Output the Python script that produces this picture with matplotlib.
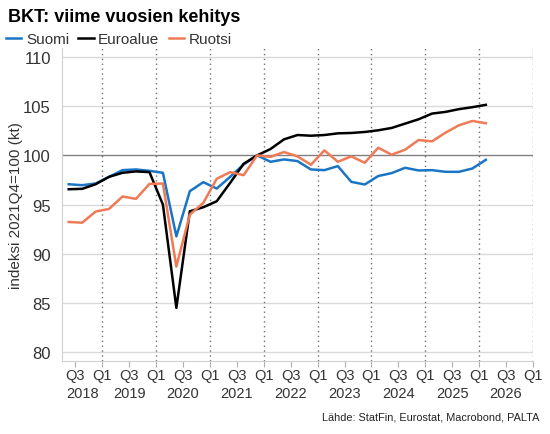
import matplotlib
matplotlib.use("Agg")
import matplotlib.pyplot as plt
import matplotlib.transforms as mtransforms
import numpy as np

plt.rcParams['font.family'] = ['Liberation Sans', 'DejaVu Sans']

# quarterly data, 2018Q2 .. 2026Q1, index 2021Q4 = 100
first_q = (2018, 2)
suomi = [97.07, 96.97, 97.14, 97.82, 98.5, 98.57, 98.43, 98.23, 91.77, 96.36,
         97.28, 96.63, 97.82, 99.08, 100.0, 99.35, 99.59, 99.42, 98.57, 98.5,
         98.91, 97.31, 97.04, 97.9, 98.2, 98.74, 98.47, 98.5, 98.33, 98.33,
         98.67, 99.55]
euroalue = [96.56, 96.6, 97.07, 97.82, 98.23, 98.37, 98.3, 95.0, 84.5, 94.32,
            94.73, 95.34, 97.21, 99.15, 100.0, 100.65, 101.63, 102.07, 102.0, 102.07,
            102.24, 102.28, 102.38, 102.55, 102.79, 103.23, 103.67, 104.25, 104.42, 104.7,
            104.9, 105.14]
ruotsi = [93.23, 93.16, 94.29, 94.56, 95.82, 95.58, 97.1, 97.14, 88.7, 93.98,
          95.17, 97.62, 98.3, 97.99, 100.0, 99.85, 100.34, 99.9, 99.05, 100.51,
          99.35, 99.9, 99.25, 100.78, 100.07, 100.58, 101.56, 101.43, 102.31, 103.06,
          103.5, 103.27]
years = [2018, 2019, 2020, 2021, 2022, 2023, 2024, 2025, 2026]
series_names = ['Suomi', 'Euroalue', 'Ruotsi']
colors = ['#1a75c4', '#000000', '#f07a55']

# x in decimal years, points at the middle of each quarter
start = first_q[0] + (first_q[1] - 1) * 0.25
t = start + 0.125 + 0.25 * np.arange(len(suomi))
x0, x1 = start, 2027.0

fig = plt.figure(figsize=(5.5, 4.35), dpi=100)
ax = fig.add_axes([0.1127, 0.1678, 0.969 - 0.1127, 0.887 - 0.1678])

# grid
for yv in range(80, 111, 5):
    if yv == 100:
        continue
    ax.axhline(yv, color='#dadada', lw=1, zorder=1)
ax.axhline(100, color='#808080', lw=1, zorder=2)
for yr in range(2019, 2028):
    ax.axvline(yr, color='#707070', lw=1, ls=(0, (1, 2.5)), zorder=1)

lines = []
for vals, name, c in zip([suomi, euroalue, ruotsi], series_names, colors):
    ln, = ax.plot(t, vals, color=c, lw=1.8, label=name, zorder=3)
    lines.append(ln)

ax.set_xlim(x0, x1)
ax.set_ylim(79.1, 110.9)
ax.set_yticks(range(80, 111, 5))
ax.tick_params(axis='y', length=0, pad=8, labelsize=12, labelcolor='#333333')

xt = np.arange(2018.5, 2027.01, 0.5)
ax.set_xticks(xt)
ax.set_xticklabels(['Q3' if v % 1 else 'Q1' for v in xt])
ax.tick_params(axis='x', length=4, color='#b0b0b0', pad=1, labelsize=10.5,
               labelcolor='#333333')

for s in ['top', 'right']:
    ax.spines[s].set_visible(False)
ax.spines['left'].set_color('#d0d0d0')
ax.spines['bottom'].set_color('#d0d0d0')

# year labels centred in the visible part of each year
trans = mtransforms.blended_transform_factory(ax.transData, ax.transAxes)
for yr in years:
    c = (max(yr, x0) + min(yr + 1, x1)) / 2
    ax.text(c, -0.08, str(yr), transform=trans, ha='center', va='top',
            fontsize=10.5, color='#333333')

ax.set_ylabel('indeksi 2021Q4=100 (kt)', fontsize=11, color='#333333')
ax.yaxis.set_label_coords(-0.082, 0.5)

fig.text(0.015, 0.96, 'BKT: viime vuosien kehitys', fontsize=13,
         fontweight='bold', va='center', ha='left')
fig.legend(handles=lines, loc='center left', bbox_to_anchor=(0.0, 0.908),
           ncol=3, frameon=False, fontsize=11, handlelength=1.0,
           handletextpad=0.3, columnspacing=0.6, borderaxespad=0,
           labelcolor='#333333')
fig.text(0.98, 0.041, 'Lähde: StatFin, Eurostat, Macrobond, PALTA', fontsize=7.8,
         ha='right', va='center', color='#222222')

fig.savefig('out.png', dpi=100)
